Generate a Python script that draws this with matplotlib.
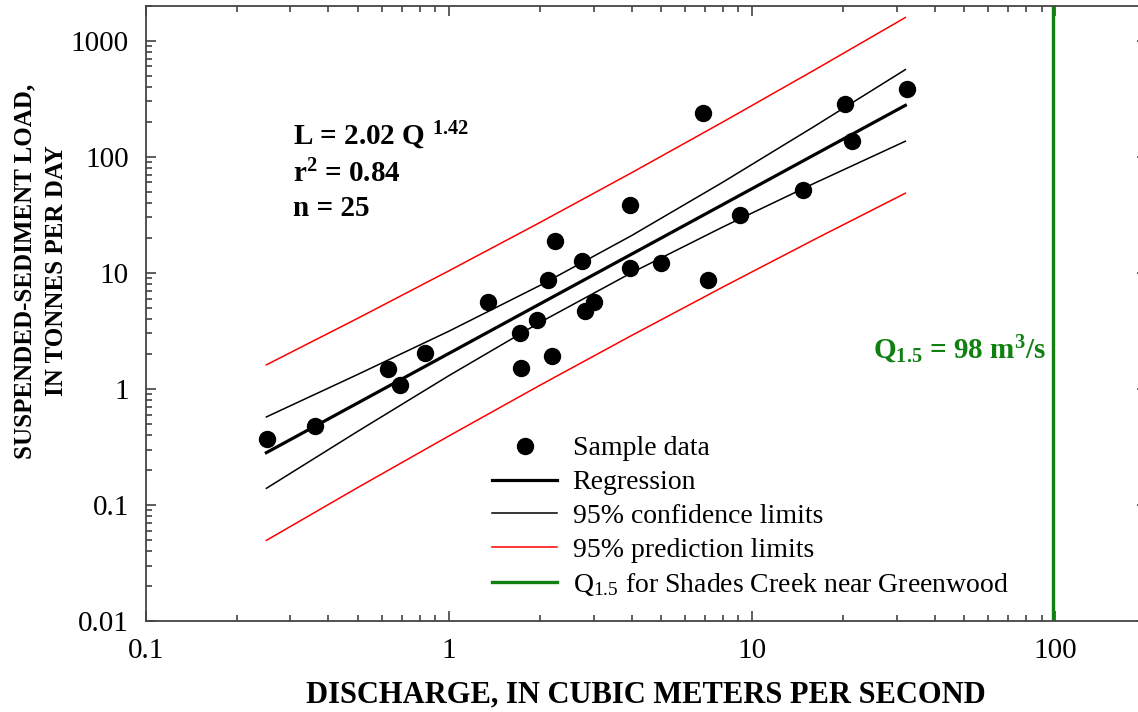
import numpy as np
import matplotlib
matplotlib.use("Agg")
import matplotlib.pyplot as plt
from matplotlib.lines import Line2D
from matplotlib.ticker import FixedLocator, NullFormatter, FuncFormatter

plt.rcParams['font.family'] = ['Liberation Serif', 'DejaVu Serif']
plt.rcParams['mathtext.fontset'] = 'custom'
plt.rcParams['mathtext.rm'] = 'Liberation Serif'
plt.rcParams['mathtext.bf'] = 'Liberation Serif:bold'
plt.rcParams['mathtext.it'] = 'Liberation Serif:italic'

# sample data
discharge = [0.252, 0.363, 0.628, 0.689, 0.833, 1.35, 1.72, 1.73, 1.95, 2.12,
             2.19, 2.24, 2.75, 2.82, 3.01, 3.94, 3.94, 5.02, 6.86, 7.13,
             9.09, 14.7, 20.2, 21.3, 32.4]
load = [0.37, 0.48, 1.49, 1.08, 2.04, 5.6, 3.04, 1.52, 3.93, 8.7,
        1.92, 18.9, 12.7, 4.7, 5.6, 38.5, 11.0, 12.2, 239, 8.7,
        31.6, 52, 286, 137, 385]

# regression and limits
line_q = [0.25, 0.5, 1, 2, 4, 8, 16, 32]
reg_load = [0.282, 0.755, 2.02, 5.41, 14.46, 38.7, 103.6, 277]
conf_upper = [0.573, 1.33, 3.14, 7.80, 20.9, 60.3, 182, 563]
conf_lower = [0.139, 0.43, 1.30, 3.75, 10.0, 24.8, 58.9, 136]
pred_upper = [1.61, 4.05, 10.4, 27.2, 72.7, 199, 556, 1582]
pred_lower = [0.0495, 0.141, 0.393, 1.077, 2.88, 7.53, 19.3, 48.5]

q15 = 98

x_ticks = [0.1, 1, 10, 100]
y_ticks = [0.01, 0.1, 1, 10, 100, 1000]

fig = plt.figure(figsize=(11.38, 7.12), dpi=100)
W, H = 1138.0, 712.0
ax = fig.add_axes([145.7 / W, 91 / H, 1001 / W, 615.3 / H])

ax.set_xscale('log')
ax.set_yscale('log')
ax.set_xlim(0.1, 200)
ax.set_ylim(0.01, 2000)

ax.plot(line_q, pred_upper, color='red', lw=1.1)
ax.plot(line_q, pred_lower, color='red', lw=1.1)
ax.plot(line_q, conf_upper, color='black', lw=1.1)
ax.plot(line_q, conf_lower, color='black', lw=1.1)
ax.plot(line_q, reg_load, color='black', lw=2.3)
ax.axvline(q15, color='#108010', lw=2.4)
ax.plot(discharge, load, 'o', color='black', ms=11.5, zorder=5)

# ticks
ax.xaxis.set_major_locator(FixedLocator(x_ticks))
ax.yaxis.set_major_locator(FixedLocator(y_ticks))
fmt = FuncFormatter(lambda v, p: ('%g' % v))
ax.xaxis.set_major_formatter(fmt)
ax.yaxis.set_major_formatter(fmt)
ax.xaxis.set_minor_formatter(NullFormatter())
ax.yaxis.set_minor_formatter(NullFormatter())
ax.tick_params(which='both', direction='in', top=True, right=True,
               color='#333333', width=1.1)
ax.tick_params(which='major', length=7, labelsize=21, pad=12)
ax.tick_params(which='minor', length=4.3)
for s in ax.spines.values():
    s.set_color('#444444')
    s.set_linewidth(1.3)

ax.set_xlabel('DISCHARGE, IN CUBIC METERS PER SECOND', fontsize=22,
              fontweight='bold', labelpad=12)
fig.text(25 / W, 1 - 271 / H, 'SUSPENDED-SEDIMENT LOAD,', rotation=90,
         fontsize=18, fontweight='bold', ha='center', va='center')
fig.text(57 / W, 1 - 271 / H, 'IN TONNES PER DAY', rotation=90,
         fontsize=18, fontweight='bold', ha='center', va='center')

# equation block
fig.text(293 / W, 1 - 145 / H, r'L = 2.02 Q $^{\mathbf{1.42}}$', fontsize=21,
         fontweight='bold', va='baseline')
fig.text(293 / W, 1 - 182 / H, r'r$^{\mathbf{2}}$ = 0.84', fontsize=21,
         fontweight='bold', va='baseline')
fig.text(293 / W, 1 - 216 / H, 'n = 25', fontsize=21,
         fontweight='bold', va='baseline')

fig.text(1046 / W, 1 - 359 / H, r'Q$_{\mathbf{1.5}}$ = 98 m$^{\mathbf{3}}$/s',
         fontsize=21, fontweight='bold', color='#108010', ha='right',
         va='baseline')

handles = [
    Line2D([], [], ls='none', marker='o', color='black', ms=11.5),
    Line2D([], [], color='black', lw=2.3),
    Line2D([], [], color='black', lw=1.1),
    Line2D([], [], color='red', lw=1.1),
    Line2D([], [], color='#108010', lw=2.4),
]
labels = ['Sample data', 'Regression', '95% confidence limits',
          '95% prediction limits', r'Q$_{\mathrm{1.5}}$ for Shades Creek near Greenwood']
fig.legend(handles, labels, loc='upper left',
           bbox_to_anchor=(492 / W, 1 - 436 / H), frameon=False,
           fontsize=20, handlelength=2.35, handletextpad=0.55,
           labelspacing=0.3, borderpad=0, borderaxespad=0)

fig.savefig('out.png', dpi=100)
